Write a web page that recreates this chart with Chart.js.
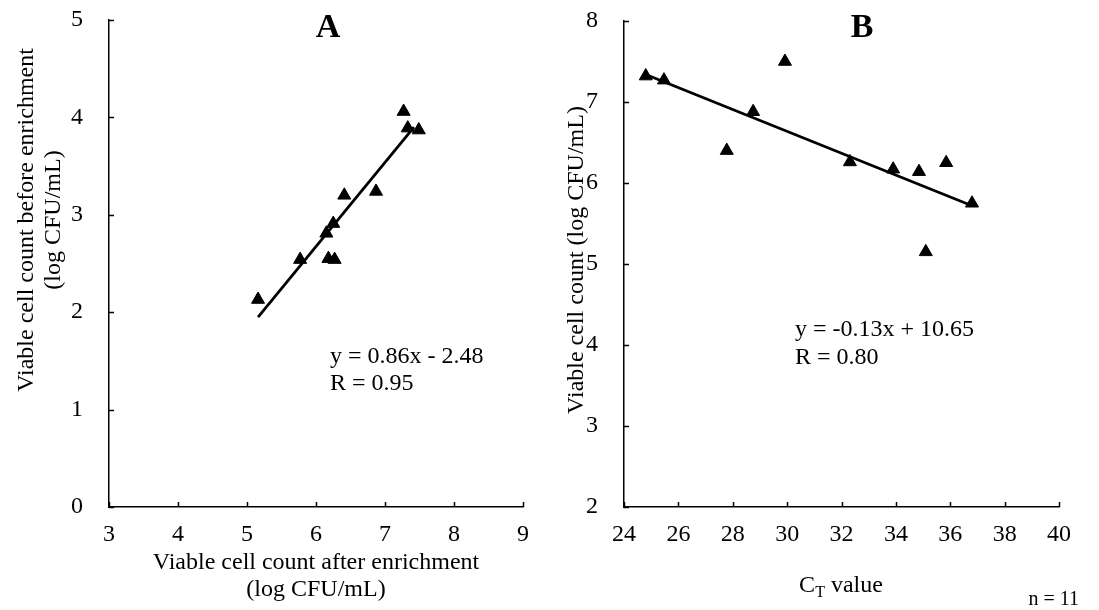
<!DOCTYPE html>
<html>
<head>
<meta charset="utf-8">
<script src="https://cdn.jsdelivr.net/npm/chart.js@4.4.1/dist/chart.umd.min.js"></script>
<style>
  html, body { margin: 0; padding: 0; background: #fff; }
  #wrap { position: relative; width: 1099px; height: 610px; }
  #cA { position: absolute; left: 0; top: 0; }
  #cB { position: absolute; left: 560px; top: 0; }
</style>
</head>
<body>
<div id="wrap">
  <canvas id="cA" width="560" height="610"></canvas>
  <canvas id="cB" width="539" height="610"></canvas>
</div>
<script>
// Panel A: before vs after enrichment (log CFU/mL)
const afterEnrich  = [5.16, 5.77, 6.18, 6.27, 6.15, 6.25, 6.41, 6.87, 7.27, 7.33, 7.49];
const beforeEnrich = [2.13, 2.54, 2.55, 2.54, 2.81, 2.91, 3.20, 3.24, 4.06, 3.89, 3.87];
const trendAx = [5.16, 7.42];
const trendAy = [1.95, 3.90];

// Panel B: CT value vs viable count
const ctValue   = [24.80, 25.47, 27.78, 28.75, 29.92, 32.31, 33.90, 34.85, 35.10, 35.85, 36.80];
const viableCnt = [7.32, 7.27, 6.40, 6.88, 7.50, 6.26, 6.17, 6.14, 5.15, 6.25, 5.75];
const trendBx = [24.80, 36.80];
const trendBy = [7.34, 5.72];

const SERIF = '"Liberation Serif", "Times New Roman", serif';
const FS = 24;

function pts(xs, ys) {
    return xs.map((x, i) => ({ x: x, y: ys[i] }));
}

// tick marks drawn inward, plus free text
function panelPlugin(texts) {
    return {
        id: 'panelDeco',
        afterDraw(chart) {
            const ctx = chart.ctx;
            const xs = chart.scales.x, ys = chart.scales.y;
            const a = chart.chartArea;
            ctx.save();
            ctx.strokeStyle = '#000';
            ctx.lineWidth = 1.5;
            xs.ticks.forEach(t => {
                const px = Math.round(xs.getPixelForValue(t.value)) + 0.5;
                ctx.beginPath();
                ctx.moveTo(px, a.bottom);
                ctx.lineTo(px, a.bottom - 5);
                ctx.stroke();
            });
            ys.ticks.forEach(t => {
                const py = Math.round(ys.getPixelForValue(t.value)) + 0.5;
                ctx.beginPath();
                ctx.moveTo(a.left, py);
                ctx.lineTo(a.left + 5, py);
                ctx.stroke();
            });
            ctx.fillStyle = '#000';
            texts(ctx);
            ctx.restore();
        }
    };
}

function baseOptions(xMin, xMax, xStep, yMin, yMax, yWidth, pad) {
    return {
        responsive: false,
        animation: false,
        layout: { padding: pad, autoPadding: false },
        plugins: { legend: { display: false }, tooltip: { enabled: false } },
        scales: {
            x: {
                type: 'linear', min: xMin, max: xMax,
                ticks: { stepSize: xStep, color: '#000', padding: 13, font: { family: SERIF, size: FS } },
                grid: { display: true, drawOnChartArea: false, drawTicks: false },
                border: { color: '#000', width: 1.5 },
                afterFit: s => { s.height = 103; }
            },
            y: {
                type: 'linear', min: yMin, max: yMax,
                ticks: { stepSize: 1, color: '#000', padding: 26, font: { family: SERIF, size: FS } },
                grid: { display: true, drawOnChartArea: false, drawTicks: false },
                border: { color: '#000', width: 1.5 },
                afterFit: s => {
                    s.width = yWidth;
                    // label padding must not push the plot area down
                    s.paddingTop = 0;
                    s.paddingBottom = 0;
                }
            }
        }
    };
}

function datasets(xs, ys, tx, ty) {
    return [
        {
            data: pts(xs, ys),
            pointStyle: 'triangle',
            pointRadius: 7.5,
            pointBackgroundColor: '#000',
            pointBorderColor: '#000',
            pointBorderWidth: 1,
            showLine: false
        },
        {
            data: pts(tx, ty),
            showLine: true,
            borderColor: '#000',
            borderWidth: 2.8,
            pointRadius: 0,
            fill: false
        }
    ];
}

// Panel A
new Chart(document.getElementById('cA').getContext('2d'), {
    type: 'scatter',
    data: { datasets: datasets(afterEnrich, beforeEnrich, trendAx, trendAy) },
    options: baseOptions(3, 9, 1, 0, 5, 109, { left: 0, top: 20, right: 37, bottom: 0 }),
    plugins: [panelPlugin(ctx => {
        ctx.font = 'bold 34px ' + SERIF;
        ctx.textAlign = 'center';
        ctx.textBaseline = 'middle';
        ctx.fillText('A', 328, 28);

        ctx.font = FS + 'px ' + SERIF;
        ctx.fillText('Viable cell count after enrichment', 316, 563);
        ctx.fillText('(log CFU/mL)', 316, 590);

        ctx.save();
        ctx.translate(27, 220);
        ctx.rotate(-Math.PI / 2);
        ctx.fillText('Viable cell count before enrichment', 0, 0);
        ctx.restore();
        ctx.save();
        ctx.translate(54, 220);
        ctx.rotate(-Math.PI / 2);
        ctx.fillText('(log CFU/mL)', 0, 0);
        ctx.restore();

        ctx.textAlign = 'left';
        ctx.fillText('y = 0.86x - 2.48', 330, 357);
        ctx.fillText('R = 0.95', 330, 384);
    })]
});

// Panel B
new Chart(document.getElementById('cB').getContext('2d'), {
    type: 'scatter',
    data: { datasets: datasets(ctValue, viableCnt, trendBx, trendBy) },
    options: baseOptions(24, 40, 2, 2, 8, 64, { left: 0, top: 21, right: 40, bottom: 0 }),
    plugins: [panelPlugin(ctx => {
        ctx.font = 'bold 34px ' + SERIF;
        ctx.textAlign = 'center';
        ctx.textBaseline = 'middle';
        ctx.fillText('B', 302, 28);

        ctx.font = FS + 'px ' + SERIF;
        ctx.save();
        ctx.translate(17, 260);
        ctx.rotate(-Math.PI / 2);
        ctx.fillText('Viable cell count (log CFU/mL)', 0, 0);
        ctx.restore();

        // C_T value, with subscript
        const big = FS + 'px ' + SERIF, small = '16px ' + SERIF;
        ctx.font = big;
        const wC = ctx.measureText('C').width;
        const wV = ctx.measureText(' value').width;
        ctx.font = small;
        const wT = ctx.measureText('T').width;
        const x0 = 281 - (wC + wT + wV) / 2;
        ctx.textAlign = 'left';
        ctx.font = big;
        ctx.fillText('C', x0, 586);
        ctx.font = small;
        ctx.fillText('T', x0 + wC, 593);
        ctx.font = big;
        ctx.fillText(' value', x0 + wC + wT, 586);

        ctx.fillText('y = -0.13x + 10.65', 235, 330);
        ctx.fillText('R = 0.80', 235, 358);

        ctx.font = '20px ' + SERIF;
        ctx.textAlign = 'right';
        ctx.fillText('n = 11', 519, 600);
    })]
});
</script>
</body>
</html>
